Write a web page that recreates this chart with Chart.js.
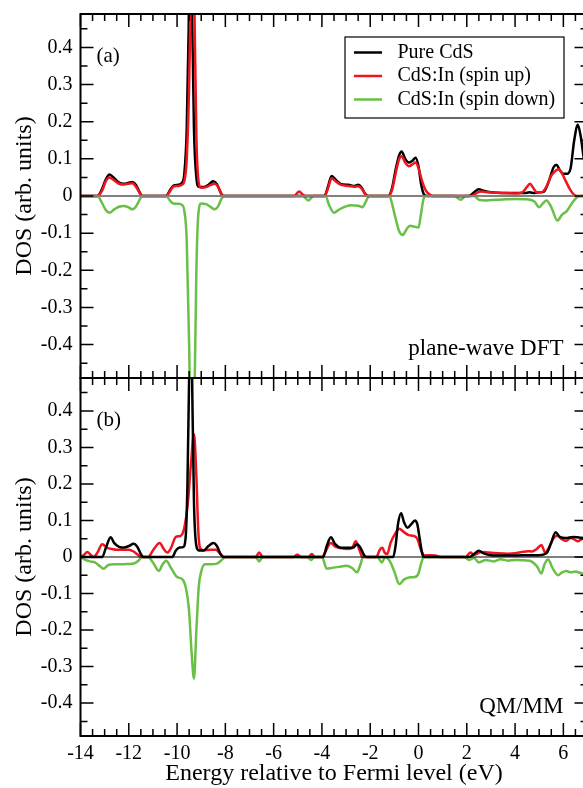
<!DOCTYPE html>
<html>
<head>
<meta charset="utf-8">
<script src="https://cdn.jsdelivr.net/npm/chart.js@4.4.0/dist/chart.umd.min.js"></script>
<style>
  html, body { margin: 0; padding: 0; background: #fff; overflow: hidden; }
  #wrap { position: relative; width: 583px; height: 788px; overflow: hidden; background: #fff; }
  #chartA { position: absolute; left: 0; top: 0; }
  #chartB { position: absolute; left: 0; top: 376px; }
</style>
</head>
<body>
<div id="wrap">
  <canvas id="chartA" width="600" height="380"></canvas>
  <canvas id="chartB" width="600" height="412"></canvas>
</div>
<script>
// [energy (eV), DOS]
const seriesNames = ['Pure CdS', 'CdS:In (spin up)', 'CdS:In (spin down)'];
const seriesColors = ['#000000', '#f0141e', '#6abf46'];

// (a) plane-wave DFT
const pwPure = [[-14, 0], [-13.3, 0], [-13.1, 0.02], [-12.95, 0.045], [-12.8, 0.058], [-12.6, 0.048], [-12.4, 0.036],
  [-12.2, 0.033], [-12.0, 0.036], [-11.85, 0.038], [-11.7, 0.03], [-11.55, 0.01], [-11.45, 0], [-10.45, 0],
  [-10.3, 0.015], [-10.15, 0.028], [-9.95, 0.03], [-9.8, 0.035], [-9.7, 0.06], [-9.6, 0.18], [-9.52, 0.45],
  [-9.45, 0.9], [-9.38, 0.5], [-9.3, 0.18], [-9.2, 0.05], [-9.1, 0.025], [-8.9, 0.024], [-8.7, 0.03], [-8.5, 0.04],
  [-8.35, 0.032], [-8.2, 0.01], [-8.1, 0], [-3.9, 0], [-3.75, 0.025], [-3.6, 0.054], [-3.4, 0.042], [-3.2, 0.032],
  [-2.9, 0.03], [-2.65, 0.027], [-2.5, 0.03], [-2.35, 0.022], [-2.2, 0.005], [-2.1, 0], [-1.25, 0], [-1.1, 0.02],
  [-0.95, 0.07], [-0.8, 0.11], [-0.7, 0.12], [-0.55, 0.1], [-0.4, 0.09], [-0.25, 0.095], [-0.12, 0.103], [0.0, 0.08],
  [0.1, 0.035], [0.22, 0.005], [0.35, 0], [2.1, 0], [2.3, 0.01], [2.5, 0.018], [2.7, 0.014], [3.0, 0.01], [3.5, 0.008],
  [4.0, 0.008], [4.4, 0.008], [4.6, 0.01], [4.8, 0.008], [5.0, 0.01], [5.2, 0.012], [5.4, 0.04], [5.6, 0.078],
  [5.72, 0.084], [5.85, 0.07], [6.0, 0.06], [6.15, 0.06], [6.3, 0.075], [6.45, 0.15], [6.6, 0.192], [6.72, 0.16],
  [6.85, 0.1], [7.0, 0.06]];
const pwUp = [[-14, 0], [-13.3, 0], [-13.1, 0.015], [-12.95, 0.04], [-12.8, 0.05], [-12.6, 0.042], [-12.4, 0.033],
  [-12.2, 0.031], [-12.0, 0.033], [-11.85, 0.034], [-11.7, 0.025], [-11.55, 0.008], [-11.45, 0], [-10.45, 0],
  [-10.3, 0.012], [-10.15, 0.025], [-9.95, 0.027], [-9.8, 0.03], [-9.7, 0.04], [-9.6, 0.1], [-9.5, 0.3], [-9.42, 0.6],
  [-9.35, 0.85], [-9.28, 0.5], [-9.2, 0.16], [-9.12, 0.045], [-9.0, 0.022], [-8.8, 0.024], [-8.6, 0.03], [-8.45, 0.033],
  [-8.3, 0.025], [-8.15, 0.005], [-8.05, 0], [-5.15, 0], [-4.95, 0.012], [-4.75, 0.002], [-4.6, 0], [-3.9, 0],
  [-3.75, 0.02], [-3.6, 0.048], [-3.4, 0.038], [-3.2, 0.03], [-2.9, 0.027], [-2.65, 0.025], [-2.5, 0.026],
  [-2.35, 0.02], [-2.2, 0.004], [-2.1, 0], [-1.25, 0], [-1.1, 0.015], [-0.95, 0.06], [-0.8, 0.1], [-0.7, 0.107],
  [-0.55, 0.09], [-0.4, 0.08], [-0.25, 0.085], [-0.12, 0.09], [0.0, 0.075], [0.15, 0.04], [0.3, 0.015], [0.45, 0.005],
  [0.6, 0], [2.2, 0], [2.4, 0.008], [2.6, 0.012], [2.9, 0.01], [3.5, 0.008], [4.0, 0.007], [4.3, 0.01], [4.5, 0.025],
  [4.62, 0.033], [4.75, 0.022], [4.9, 0.01], [5.1, 0.01], [5.3, 0.025], [5.5, 0.055], [5.72, 0.07], [5.8, 0.072],
  [5.95, 0.06], [6.1, 0.04], [6.3, 0.015], [6.45, 0.003], [6.55, 0], [7.0, 0]];
const pwDown = [[-14, 0], [-13.3, 0], [-13.1, -0.02], [-12.95, -0.038], [-12.8, -0.045], [-12.6, -0.036],
  [-12.4, -0.029], [-12.2, -0.027], [-12.0, -0.031], [-11.85, -0.036], [-11.7, -0.028], [-11.55, -0.01], [-11.45, 0],
  [-10.45, 0], [-10.3, -0.012], [-10.15, -0.02], [-9.95, -0.021], [-9.8, -0.024], [-9.7, -0.04], [-9.6, -0.12],
  [-9.5, -0.4], [-9.43, -0.7], [-9.36, -0.9], [-9.29, -0.6], [-9.2, -0.2], [-9.12, -0.05], [-9.0, -0.02],
  [-8.8, -0.022], [-8.6, -0.03], [-8.45, -0.036], [-8.3, -0.028], [-8.15, -0.006], [-8.05, 0], [-4.8, 0],
  [-4.56, -0.012], [-4.35, 0], [-3.85, 0], [-3.7, -0.025], [-3.5, -0.045], [-3.3, -0.037], [-3.0, -0.028],
  [-2.8, -0.025], [-2.5, -0.026], [-2.32, -0.03], [-2.18, -0.015], [-2.05, 0], [-1.2, 0], [-1.1, -0.02],
  [-0.95, -0.06], [-0.8, -0.095], [-0.65, -0.105], [-0.5, -0.09], [-0.35, -0.08], [-0.2, -0.082], [0.0, -0.085],
  [0.1, -0.05], [0.2, -0.01], [0.3, 0], [1.5, 0], [1.75, -0.01], [1.95, 0], [2.3, 0], [2.5, -0.01], [2.8, -0.012],
  [3.2, -0.01], [3.6, -0.009], [4.0, -0.008], [4.5, -0.009], [4.8, -0.015], [5.0, -0.03], [5.15, -0.02],
  [5.3, -0.012], [5.5, -0.03], [5.75, -0.066], [5.95, -0.05], [6.15, -0.04], [6.35, -0.02], [6.55, -0.004],
  [6.7, 0], [7.0, 0]];

// (b) QM/MM
const qmPure = [[-14, 0], [-13.1, 0], [-12.95, 0.025], [-12.75, 0.054], [-12.6, 0.038], [-12.4, 0.028], [-12.2, 0.026],
  [-12.0, 0.03], [-11.8, 0.036], [-11.65, 0.028], [-11.5, 0.008], [-11.4, 0], [-10.2, 0], [-10.05, 0.018],
  [-9.9, 0.026], [-9.75, 0.027], [-9.65, 0.05], [-9.57, 0.2], [-9.5, 0.5], [-9.44, 0.8], [-9.38, 0.5], [-9.3, 0.15],
  [-9.2, 0.03], [-9.1, 0.018], [-8.9, 0.018], [-8.7, 0.03], [-8.5, 0.038], [-8.35, 0.03], [-8.2, 0.008], [-8.1, 0],
  [-3.95, 0], [-3.8, 0.03], [-3.63, 0.054], [-3.45, 0.035], [-3.2, 0.025], [-2.9, 0.025], [-2.7, 0.026],
  [-2.55, 0.035], [-2.4, 0.025], [-2.25, 0.005], [-2.15, 0], [-1.05, 0], [-0.95, 0.03], [-0.85, 0.09], [-0.72, 0.12],
  [-0.6, 0.095], [-0.45, 0.08], [-0.3, 0.09], [-0.15, 0.1], [-0.05, 0.09], [0.05, 0.05], [0.15, 0.01], [0.25, 0],
  [2.1, 0], [2.3, 0.008], [2.5, 0.017], [2.7, 0.01], [3.0, 0.005], [3.5, 0.004], [4.0, 0.004], [4.5, 0.005],
  [5.0, 0.005], [5.3, 0.01], [5.5, 0.04], [5.68, 0.068], [5.85, 0.055], [6.1, 0.052], [6.4, 0.055], [6.7, 0.053],
  [7.0, 0.052]];
const qmUp = [[-14, 0], [-13.85, 0.006], [-13.72, 0.014], [-13.58, 0.006], [-13.45, 0], [-13.3, 0.012], [-13.1, 0.035],
  [-12.9, 0.025], [-12.7, 0.022], [-12.5, 0.02], [-12.2, 0.02], [-12.0, 0.02], [-11.8, 0.015], [-11.6, 0.005],
  [-11.45, 0], [-11.2, 0], [-11.0, 0.018], [-10.72, 0.038], [-10.55, 0.022], [-10.4, 0.012], [-10.25, 0.025],
  [-10.05, 0.055], [-9.85, 0.058], [-9.7, 0.08], [-9.55, 0.15], [-9.42, 0.26], [-9.3, 0.337], [-9.2, 0.22],
  [-9.12, 0.07], [-9.05, 0.025], [-8.9, 0.018], [-8.6, 0.02], [-8.4, 0.02], [-8.2, 0.008], [-8.05, 0], [-6.75, 0],
  [-6.6, 0.012], [-6.45, 0], [-5.2, 0], [-5.02, 0.006], [-4.85, 0], [-4.55, 0], [-4.42, 0.008], [-4.3, 0], [-4.0, 0],
  [-3.85, 0.015], [-3.63, 0.038], [-3.45, 0.028], [-3.2, 0.024], [-2.95, 0.022], [-2.75, 0.025], [-2.6, 0.043],
  [-2.45, 0.02], [-2.32, 0], [-1.75, 0], [-1.6, 0.02], [-1.5, 0.025], [-1.4, 0.012], [-1.3, 0.008], [-1.15, 0.04],
  [-1.0, 0.06], [-0.8, 0.077], [-0.6, 0.068], [-0.4, 0.06], [-0.2, 0.058], [-0.05, 0.05], [0.1, 0.02], [0.25, 0.004],
  [0.5, 0.005], [0.7, 0.004], [0.9, 0], [1.95, 0], [2.15, 0.012], [2.3, 0.006], [2.6, 0.014], [2.9, 0.012],
  [3.3, 0.01], [3.7, 0.009], [4.0, 0.01], [4.3, 0.014], [4.55, 0.016], [4.7, 0.015], [4.9, 0.022], [5.09, 0.033],
  [5.25, 0.012], [5.4, 0.025], [5.6, 0.052], [5.75, 0.058], [5.95, 0.048], [6.12, 0.044], [6.3, 0.052], [6.45, 0.048],
  [6.6, 0.043], [6.8, 0.05], [7.0, 0.048]];
const qmDown = [[-14, 0], [-13.8, -0.008], [-13.6, -0.012], [-13.4, -0.015], [-13.2, -0.025], [-13.05, -0.032],
  [-12.85, -0.022], [-12.6, -0.02], [-12.3, -0.02], [-12.0, -0.019], [-11.8, -0.018], [-11.6, -0.01], [-11.45, 0],
  [-11.2, 0], [-11.0, -0.015], [-10.75, -0.038], [-10.6, -0.02], [-10.45, -0.01], [-10.25, -0.03], [-10.0, -0.055],
  [-9.8, -0.06], [-9.65, -0.08], [-9.5, -0.15], [-9.4, -0.26], [-9.3, -0.333], [-9.2, -0.2], [-9.1, -0.08],
  [-9.0, -0.04], [-8.85, -0.02], [-8.6, -0.02], [-8.35, -0.018], [-8.15, -0.008], [-8.0, 0], [-6.75, 0],
  [-6.6, -0.012], [-6.45, 0], [-4.6, 0], [-4.45, -0.008], [-4.3, 0], [-4.0, 0], [-3.8, -0.032], [-3.6, -0.03],
  [-3.3, -0.027], [-3.0, -0.024], [-2.75, -0.03], [-2.55, -0.042], [-2.4, -0.02], [-2.3, 0], [-1.7, 0],
  [-1.52, -0.015], [-1.38, 0], [-1.2, -0.01], [-1.0, -0.04], [-0.8, -0.074], [-0.6, -0.062], [-0.4, -0.056],
  [-0.15, -0.055], [0.0, -0.045], [0.1, -0.02], [0.22, 0], [1.9, 0], [2.1, -0.008], [2.3, -0.003], [2.5, -0.015],
  [2.8, -0.008], [3.1, -0.012], [3.4, -0.006], [3.7, -0.01], [4.0, -0.008], [4.3, -0.009], [4.6, -0.01],
  [4.9, -0.025], [5.09, -0.045], [5.22, -0.02], [5.37, -0.007], [5.55, -0.03], [5.78, -0.05], [5.95, -0.042],
  [6.12, -0.038], [6.3, -0.042], [6.5, -0.04], [6.8, -0.045], [7.0, -0.044]];

const xMin = -14, xMax = 7, xStep = 2;
const yMin = -0.49, yMax = 0.49, yStep = 0.1;

const FONT = "'Liberation Serif', 'Times New Roman', serif";

function makeSets(rows, order) {
  return rows.map((r, i) => ({
    label: seriesNames[i],
    data: r.map(p => ({ x: p[0], y: p[1] })),
    borderColor: seriesColors[i],
    backgroundColor: seriesColors[i],
    borderWidth: 2.5,
    pointRadius: 0,
    cubicInterpolationMode: 'monotone',
    order: order[i]
  }));
}

// frame with inward ticks, zero line and panel texts
const framePlugin = {
  id: 'frame',
  afterDatasetsDraw(chart, args, opts) {
    const { ctx, chartArea: a, scales: { x, y } } = chart;
    ctx.save();
    const y0 = y.getPixelForValue(0);
    ctx.strokeStyle = opts.zeroColor;
    ctx.lineWidth = opts.zeroWidth;
    ctx.beginPath();
    ctx.moveTo(a.left, y0);
    ctx.lineTo(a.right, y0);
    ctx.stroke();

    ctx.strokeStyle = '#000';
    ctx.lineWidth = 1.5;
    ctx.beginPath();
    for (let i = 0; i <= (xMax - xMin) * 2; i++) {
      const px = x.getPixelForValue(xMin + i * 0.5);
      const len = i % 4 === 0 ? 13 : 7;
      ctx.moveTo(px, a.top); ctx.lineTo(px, a.top + len);
      ctx.moveTo(px, a.bottom); ctx.lineTo(px, a.bottom - len);
    }
    for (let i = -9; i <= 9; i++) {
      const py = y.getPixelForValue(i * 0.05);
      const len = i % 2 === 0 ? 13 : 7;
      ctx.moveTo(a.left, py); ctx.lineTo(a.left + len, py);
      ctx.moveTo(a.right, py); ctx.lineTo(a.right - len, py);
    }
    ctx.stroke();
    ctx.lineWidth = 2;
    ctx.strokeRect(a.left, a.top, a.right - a.left, a.bottom - a.top);

    ctx.fillStyle = '#000';
    ctx.textBaseline = 'middle';
    ctx.textAlign = 'left';
    ctx.font = '21px ' + FONT;
    ctx.fillText(opts.tag, a.left + 16, a.top + 42);
    ctx.textAlign = 'right';
    ctx.font = '23px ' + FONT;
    ctx.fillText(opts.method, a.right - 24, a.bottom - 29);
    ctx.restore();
  }
};

const legendPlugin = {
  id: 'boxLegend',
  afterDraw(chart, args, opts) {
    if (!opts.show) return;
    const { ctx, chartArea: a } = chart;
    const left = a.right - 242.5, top = a.top + 23, w = 219, h = 81;
    ctx.save();
    ctx.fillStyle = '#fff';
    ctx.fillRect(left, top, w, h);
    ctx.strokeStyle = '#000';
    ctx.lineWidth = 1.2;
    ctx.strokeRect(left, top, w, h);
    ctx.font = '20px ' + FONT;
    ctx.textBaseline = 'middle';
    ctx.textAlign = 'left';
    chart.data.datasets.forEach((d, i) => {
      const ry = top + 15.5 + i * 23.5;
      ctx.strokeStyle = d.borderColor;
      ctx.lineWidth = 2.5;
      ctx.beginPath();
      ctx.moveTo(left + 9, ry);
      ctx.lineTo(left + 37, ry);
      ctx.stroke();
      ctx.fillStyle = '#000';
      ctx.fillText(d.label, left + 52.5, ry);
    });
    ctx.restore();
  }
};

function yScale() {
  return {
    min: yMin, max: yMax,
    afterFit: s => {
      s.width = 80.5;
      s.paddingTop = 0;
      s.paddingBottom = 0;
    },
    grid: { display: false, drawTicks: false },
    border: { display: false },
    ticks: {
      stepSize: yStep, includeBounds: false, padding: 8, color: '#000',
      font: { family: FONT, size: 20 },
      callback: v => Math.abs(v) < 1e-9 ? '0' : String(Math.round(v * 10) / 10)
    },
    title: {
      display: true, text: 'DOS (arb. units)', color: '#000',
      font: { family: FONT, size: 24 }, padding: { top: 10, bottom: 0 }
    }
  };
}

new Chart(document.getElementById('chartA').getContext('2d'), {
  type: 'line',
  data: { datasets: makeSets([pwPure, pwUp, pwDown], [1, 0, 2]) },
  options: {
    responsive: false,
    animation: false,
    layout: { padding: { top: 14, right: 12.5, bottom: 2, left: 0 } },
    plugins: {
      legend: { display: false },
      tooltip: { enabled: false },
      frame: { tag: '(a)', method: 'plane-wave DFT', zeroColor: '#808080', zeroWidth: 2 },
      boxLegend: { show: true }
    },
    scales: {
      x: { type: 'linear', display: false, min: xMin, max: xMax },
      y: yScale()
    }
  },
  plugins: [framePlugin, legendPlugin]
});

new Chart(document.getElementById('chartB').getContext('2d'), {
  type: 'line',
  data: { datasets: makeSets([qmPure, qmUp, qmDown], [0, 1, 2]) },
  options: {
    responsive: false,
    animation: false,
    layout: { padding: { top: 2, right: 12.5, bottom: 0, left: 0 } },
    plugins: {
      legend: { display: false },
      tooltip: { enabled: false },
      frame: { tag: '(b)', method: 'QM/MM', zeroColor: '#000', zeroWidth: 1.2 },
      boxLegend: { show: false }
    },
    scales: {
      x: {
        type: 'linear', min: xMin, max: xMax,
        afterFit: s => {
          s.height = 52;
          s.paddingLeft = 0;
          s.paddingRight = 0;
        },
        grid: { display: false, drawTicks: false },
        border: { display: false },
        ticks: {
          stepSize: xStep, includeBounds: false, padding: 6, color: '#000',
          maxRotation: 0, autoSkip: false,
          font: { family: FONT, size: 20 }
        },
        title: {
          display: true, text: 'Energy relative to Fermi level (eV)', color: '#000',
          font: { family: FONT, size: 24 }, padding: 0
        }
      },
      y: yScale()
    }
  },
  plugins: [framePlugin, legendPlugin]
});
</script>
</body>
</html>
